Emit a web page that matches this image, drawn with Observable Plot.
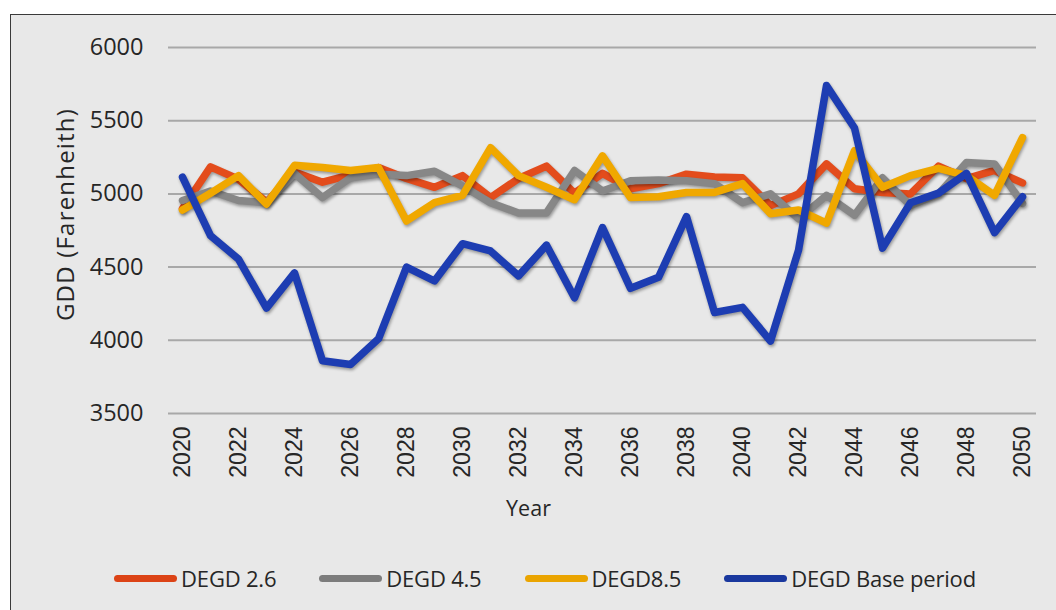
<!DOCTYPE html>
<html>
<head>
<meta charset="utf-8">
<script src="https://cdn.jsdelivr.net/npm/d3@7"></script>
<script src="https://cdn.jsdelivr.net/npm/@observablehq/plot@0.6"></script>
<style>
  html, body { margin: 0; padding: 0; background: #ffffff; }
  #frame {
    position: absolute; left: 10px; top: 14px; width: 1046px; height: 596px;
    box-sizing: border-box; border: 1px solid #3a3a3a; border-right: none; border-bottom: none;
    background: #e8e8e8; overflow: hidden;
  }
  #chart { position: absolute; left: 0; top: 0; }
  #legend {
    position: absolute; left: 0; top: 548px; width: 1045px; height: 30px;
    display: flex; justify-content: center; align-items: center; gap: 43px;
    padding-left: 23px; box-sizing: border-box;
    font-family: "Open Sans", sans-serif; font-size: 22px; color: #262626; letter-spacing: -0.2px;
  }
  .item { display: flex; align-items: center; }
  .sw { width: 63px; height: 7px; border-radius: 4px; margin-right: 4px; }
  #chart g[aria-label="line"] path { filter: drop-shadow(1px 2px 1.5px rgba(0,0,0,0.35)); }
</style>
</head>
<body>
<div id="frame">
  <div id="chart"></div>
  <div id="legend"></div>
</div>
<script>
const years = [2020,2021,2022,2023,2024,2025,2026,2027,2028,2029,2030,2031,2032,2033,2034,2035,2036,2037,2038,2039,2040,2041,2042,2043,2044,2045,2046,2047,2048,2049,2050];
const degd26 = [4900,5185,5100,4945,5150,5080,5130,5180,5105,5045,5125,4975,5105,5190,5005,5140,5035,5070,5135,5115,5110,4920,5000,5205,5035,5010,5000,5190,5105,5160,5075];
const degd45 = [4955,5020,4955,4940,5140,4975,5110,5135,5125,5155,5055,4940,4870,4870,5160,5020,5090,5095,5090,5070,4940,5000,4830,4990,4855,5110,4920,5000,5215,5205,4935];
const degd85 = [4890,5005,5125,4930,5195,5180,5160,5180,4815,4940,4990,5315,5125,5045,4960,5260,4975,4980,5010,5010,5070,4865,4890,4800,5295,5045,5125,5175,5125,4990,5385];
const degdBase = [5115,4715,4555,4220,4460,3860,3835,4010,4500,4405,4660,4610,4440,4650,4290,4770,4355,4430,4845,4190,4225,3995,4615,5740,5450,4630,4940,5005,5140,4735,4980];

const seriesNames = ["DEGD 2.6", "DEGD 4.5", "DEGD8.5", "DEGD Base period"];
const seriesValues = [degd26, degd45, degd85, degdBase];
const seriesColors = ["#e34c1c", "#878787", "#f0a800", "#1d3db2"];
const legendColors = ["#dc4316", "#7c7c7c", "#eaa400", "#1a389e"];

const yTicks = [3500, 4000, 4500, 5000, 5500, 6000];
const xTicks = [2020,2022,2024,2026,2028,2030,2032,2034,2036,2038,2040,2042,2044,2046,2048,2050];
const yTitle = "GDD (Farenheith)";
const xTitle = "Year";

const lineMarks = seriesValues.map((vals, i) =>
  Plot.lineY(years.map((y, j) => ({year: y, value: vals[j]})), {
    x: "year", y: "value", stroke: seriesColors[i], strokeWidth: 7.5,
    strokeLinejoin: "round", strokeLinecap: "round"
  })
);

const plot = Plot.plot({
  width: 1045,
  height: 530,
  marginLeft: 157,
  marginRight: 20,
  marginTop: 32,
  marginBottom: 132,
  style: {background: "transparent", fontFamily: "'Open Sans', sans-serif", color: "#262626", overflow: "visible"},
  x: {type: "linear", domain: [2019.5, 2050.5]},
  y: {domain: [3500, 6000]},
  marks: [
    Plot.ruleY(yTicks, {stroke: "#a8a8a8", strokeWidth: 2}),
    Plot.axisY({ticks: yTicks, tickFormat: d => String(d), tickSize: 0, tickPadding: 25, fontSize: 23.5, label: null, fill: "#262626"}),
    Plot.axisX({ticks: xTicks, tickFormat: d => String(d), tickRotate: -90, tickSize: 0, tickPadding: 13,
      fontSize: 23, fontFamily: "'Liberation Sans', Arial, sans-serif", label: null, fill: "#262626"}),
    Plot.text([yTitle], {text: d => d, frameAnchor: "left", textAnchor: "middle", rotate: -90, dx: -102, dy: -16, fontSize: 24, fill: "#262626"}),
    Plot.text([xTitle], {text: d => d, frameAnchor: "bottom", dx: -74, dy: 102, fontSize: 21.5, fill: "#262626"}),
    ...lineMarks
  ]
});
d3.select(plot).selectAll("text").filter(function() { return this.textContent === yTitle; })
  .style("letter-spacing", "1.2px");
document.getElementById("chart").appendChild(plot);

const legend = document.getElementById("legend");
seriesNames.forEach((name, i) => {
  const item = document.createElement("div");
  item.className = "item";
  const sw = document.createElement("div");
  sw.className = "sw";
  sw.style.background = legendColors[i];
  const tx = document.createElement("span");
  tx.textContent = name;
  item.appendChild(sw);
  item.appendChild(tx);
  legend.appendChild(item);
});
</script>
</body>
</html>
